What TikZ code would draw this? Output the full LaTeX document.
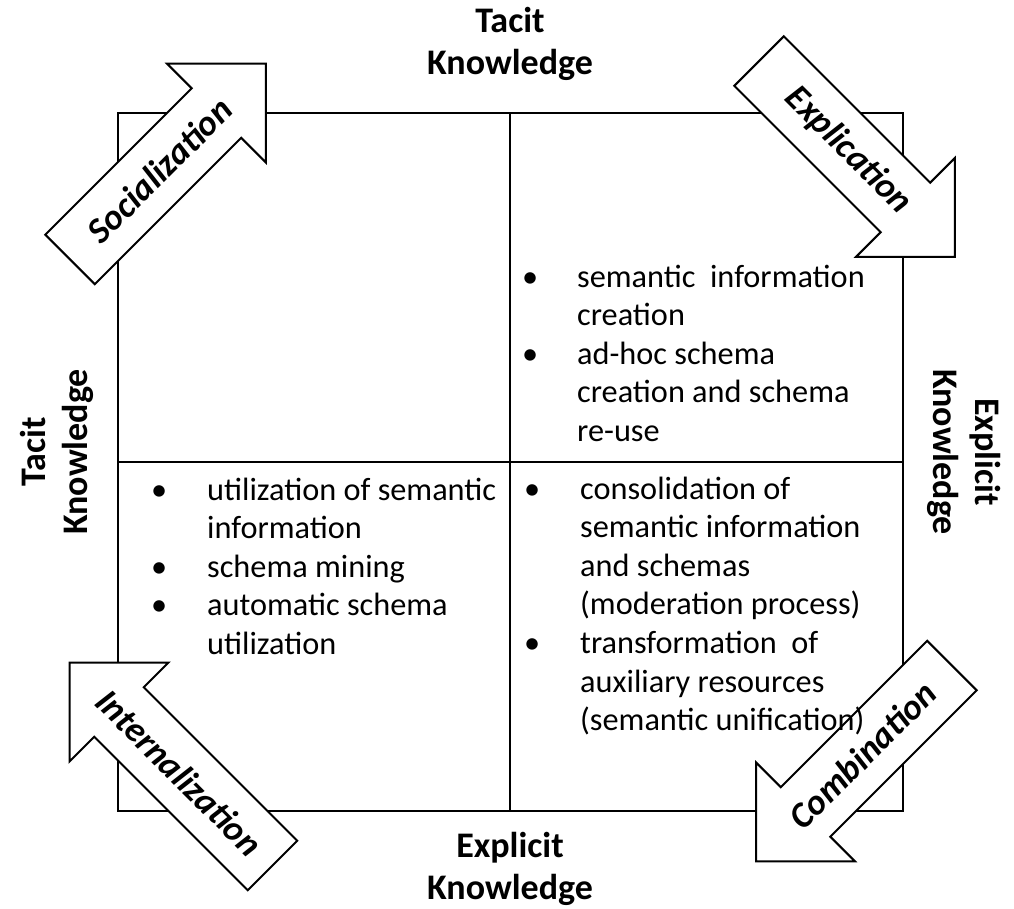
\documentclass[tikz,border=0pt]{standalone}
\usepackage{fontspec}
\setmainfont{Carlito}
\newcommand{\bodyfont}{\fontsize{32.3}{38.6}\selectfont}
\newcommand{\headfont}{\fontsize{36}{42}\selectfont\bfseries}
% big outlined arrow: name, centre, angle, length, label, extra turn of label
\newcommand{\knowarrow}[6]{%
  \begin{scope}[shift={#2},rotate=#3]
    \draw[arrowbody] (-#4/2,-35) -- (#4/2-70,-35) -- (#4/2-70,-70) -- (#4/2,0)
      -- (#4/2-70,70) -- (#4/2-70,35) -- (-#4/2,35) -- cycle;
    \node[arrowlabel,rotate=#3+#6] (#1) at (-12,0) {#5};
  \end{scope}}

\begin{document}
\begin{tikzpicture}[x=1pt,y=-1pt,
  quadline/.style={line width=2pt},
  arrowbody/.style={line width=2pt,fill=white,line join=miter},
  arrowlabel/.style={font=\fontsize{36}{40}\selectfont\bfseries\itshape,inner sep=0pt},
  headlabel/.style={font=\headfont,inner sep=0pt,anchor=base},
  listtext/.style={font=\bodyfont,inner sep=0pt,anchor=base west}]
\useasboundingbox (0,0) rectangle (1014,908);

%the four quadrants
\draw[quadline] (118,113) rectangle (903,811);
\draw[quadline] (510,113) -- (510,811);
\draw[quadline] (118,462) -- (903,462);

%axis labels
\node[headlabel] (tacittop) at (510,32)
  {\begin{tabular}[t]{@{}c@{}}Tacit\\Knowledge\end{tabular}};
\node[headlabel] (explicitbottom) at (510,857)
  {\begin{tabular}[t]{@{}c@{}}Explicit\\Knowledge\end{tabular}};
\node[headlabel,rotate=90] (tacitleft) at (45,452)
  {\begin{tabular}[t]{@{}c@{}}Tacit\\Knowledge\end{tabular}};
\node[headlabel,rotate=-90] (explicitright) at (975,452)
  {\begin{tabular}[t]{@{}c@{}}Explicit\\Knowledge\end{tabular}};

%conversion arrows
\knowarrow{socialization}{(168,161.5)}{45}{277}{Socialization}{0}
\knowarrow{explication}{(857,159)}{-45}{277}{Explication}{0}
\knowarrow{internalization}{(171,764)}{135}{287}{Internalization}{180}
\knowarrow{combination}{(854,763.5)}{-135}{277}{Combination}{180}

%quadrant contents
\node[listtext] (creation) at (522,287) {\begin{tabular}[t]{@{}p{55pt}@{}l@{}}
\textbullet & semantic\ \ information\\
 & creation\\
\textbullet & ad-hoc schema\\
 & creation and schema\\
 & re-use
\end{tabular}};
\node[listtext] (utilization) at (151,500) {\begin{tabular}[t]{@{}p{56pt}@{}l@{}}
\textbullet & utilization of semantic\\
 & information\\
\textbullet & schema mining\\
\textbullet & automatic schema\\
 & utilization
\end{tabular}};
\node[listtext] (consolidation) at (524,499) {\begin{tabular}[t]{@{}p{56pt}@{}l@{}}
\textbullet & consolidation of\\
 & semantic information\\
 & and schemas\\
 & (moderation process)\\
\textbullet & transformation\ \ of\\
 & auxiliary resources\\
 & (semantic unification)
\end{tabular}};
\end{tikzpicture}
\end{document}
